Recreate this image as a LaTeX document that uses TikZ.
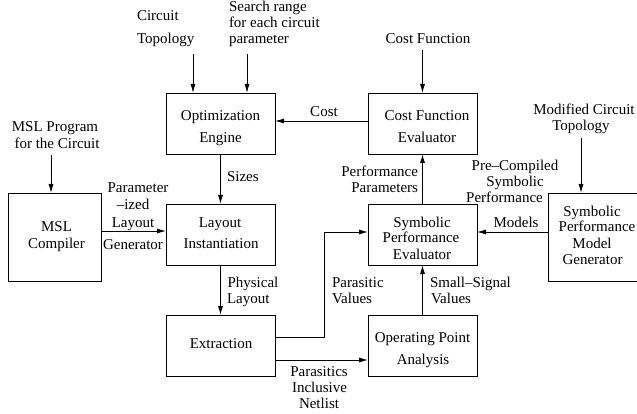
\documentclass[tikz,border=0pt]{standalone}
\usepackage{fontspec}
\setmainfont{Liberation Serif}
\usetikzlibrary{arrows.meta}
\begin{document}
\begin{tikzpicture}[x=1pt,y=-1pt,
  font=\fontsize{15}{17}\selectfont,
  box/.style={draw, line width=0.9pt, inner sep=0pt, outer sep=0pt, minimum width=109pt, minimum height=61pt},
  tall/.style={box, minimum height=88pt},
  lbl/.style={inner sep=0pt, outer sep=0pt, anchor=base},
  arr/.style={draw, line width=0.9pt, -{Latex[length=9pt,width=5pt]}},
  con/.style={draw, line width=0.9pt}]
\useasboundingbox (0,0) rectangle (637,414);
\clip (0,0) rectangle (637,414);

% boxes
\node[box] (opt) at (220.5,123.5) {};
\node[box] (cfe) at (422.5,123.5) {};
\node[box] (lay) at (220.5,234.5) {};
\node[box] (spe) at (422.5,234.5) {};
\node[box] (ext) at (220.5,345.5) {};
\node[box] (opa) at (422.5,345.5) {};
\node[tall, minimum width=93pt] (msl) at (54.5,237) {};
\node[tall, minimum width=104pt] (spmg) at (600,237) {};

% box texts
\node[lbl] (t1) at (220.5,121) {Optimization};
\node[lbl] (t2) at (220.5,143) {Engine};
\node[lbl] (t3) at (427,121) {Cost Function};
\node[lbl] (t4) at (427,143) {Evaluator};
\node[lbl] (t5) at (220,227) {Layout};
\node[lbl] (t6) at (221,248) {Instantiation};
\node[lbl] (t7) at (56.5,231) {MSL};
\node[lbl] (t8) at (56.5,248) {Compiler};
\node[lbl] (t9) at (422,227) {Symbolic};
\node[lbl] (t10) at (421,243) {Performance};
\node[lbl] (t11) at (422,259) {Evaluator};
\node[lbl] (t12) at (592,216) {Symbolic};
\node[lbl] (t13) at (597,232) {Performance};
\node[lbl] (t14) at (592,248) {Model};
\node[lbl] (t15) at (592.5,264) {Generator};
\node[lbl] (t16) at (221,348) {Extraction};
\node[lbl] (t17) at (422.5,342) {Operating Point};
\node[lbl] (t18) at (423,364) {Analysis};

% free texts
\node[lbl, anchor=base west] (c1) at (137,21) {Circuit};
\node[lbl, anchor=base west] (c2) at (137,44) {Topology};
\node[lbl, anchor=base west] (s1) at (229,11.5) {Search range};
\node[lbl, anchor=base west] (s2) at (229,27.5) {for each circuit};
\node[lbl, anchor=base west] (s3) at (229,44) {parameter};
\node[lbl] (cf) at (428,44) {Cost Function};
\node[lbl] (m1) at (55,132) {MSL Program};
\node[lbl] (m2) at (57,149) {for the Circuit};
\node[lbl] (mc1) at (584,115) {Modified Circuit};
\node[lbl] (mc2) at (581,131) {Topology};
\node[lbl] (cost) at (324,117) {Cost};
\node[lbl, anchor=base west] (sz) at (227,182) {Sizes};
\node[lbl] (p1) at (138,193) {Parameter};
\node[lbl] (p2) at (133,210) {\textendash ized};
\node[lbl] (p3) at (133,227) {Layout};
\node[lbl] (p4) at (133,249) {Generator};
\node[lbl, anchor=base east] (pp1) at (418,177) {Performance};
\node[lbl, anchor=base east] (pp2) at (418,193) {Parameters};
\node[lbl] (pc1) at (515,171) {Pre\textendash Compiled};
\node[lbl] (pc2) at (515,187) {Symbolic};
\node[lbl] (pc3) at (504.5,203) {Performance};
\node[lbl] (mo) at (516,227) {Models};
\node[lbl, anchor=base west] (ph1) at (227.5,287) {Physical};
\node[lbl, anchor=base west] (ph2) at (227,303) {Layout};
\node[lbl, anchor=base west] (pv1) at (332,287) {Parasitic};
\node[lbl, anchor=base west] (pv2) at (332,303) {Values};
\node[lbl, anchor=base west] (sv1) at (430,287) {Small\textendash Signal};
\node[lbl, anchor=base west] (sv2) at (431,303) {Values};
\node[lbl] (n1) at (319,376) {Parasitics};
\node[lbl] (n2) at (319.5,392) {Inclusive};
\node[lbl] (n3) at (319,408) {Netlist};

% free ends of input arrows
\coordinate (ict) at (193,54);
\coordinate (isr) at (247,54);
\coordinate (icf) at (422.5,50);
\coordinate (imsl) at (51,155);
\coordinate (imod) at (581,138);
\coordinate (bend) at (324,337);

% connectors
\draw[arr] (ict) -- (ict |- opt.north);
\draw[arr] (isr) -- (isr |- opt.north);
\draw[arr] (icf) -- (cfe.north);
\draw[arr] (imsl) -- (imsl |- msl.north);
\draw[arr] (imod) -- (imod |- spmg.north);
\draw[arr] (cfe.west |- 0,121) -- (opt.east |- 0,121);
\draw[arr] (opt.south) -- (lay.north);
\draw[arr] (msl.east |- 0,231) -- (lay.west |- 0,231);
\draw[arr] (lay.south) -- (ext.north);
\draw[arr] (ext.east |- bend) -- (bend) |- (spe.west |- 0,232);
\draw[arr] (ext.east |- 0,360) -- (opa.west |- 0,360);
\draw[arr] (opa.north) -- (spe.south);
\draw[arr] (spe.north) -- (cfe.south);
\draw[arr] (spmg.west |- 0,232) -- (spe.east |- 0,232);
\end{tikzpicture}
\end{document}
